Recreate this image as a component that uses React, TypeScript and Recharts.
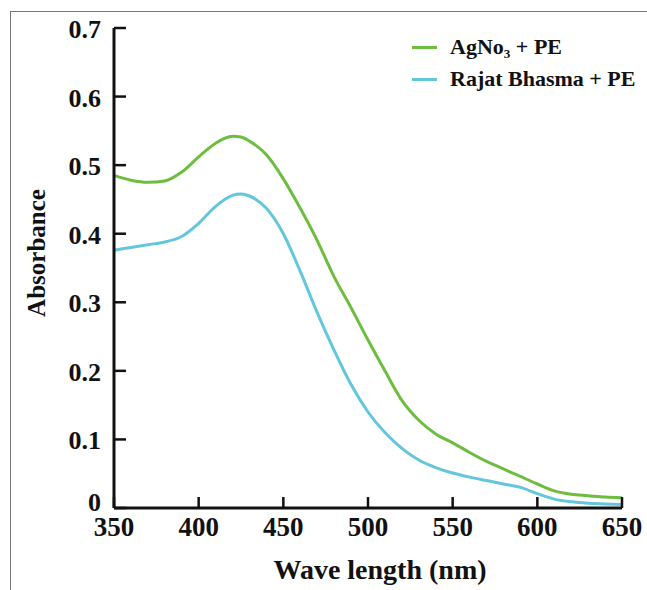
import { LineChart, Line, XAxis, YAxis, Legend, Label } from 'recharts';

const wavelengths = [350, 360, 370, 380, 390, 400, 410, 420, 425, 430, 440, 450, 460, 470, 480, 490, 500, 510, 520, 530, 540, 550, 560, 570, 580, 590, 600, 610, 620, 630, 640, 650];
const agNo3Pe = [0.485, 0.478, 0.475, 0.477, 0.49, 0.512, 0.532, 0.542, 0.541, 0.535, 0.515, 0.48, 0.437, 0.39, 0.337, 0.292, 0.245, 0.2, 0.157, 0.128, 0.108, 0.095, 0.081, 0.068, 0.057, 0.046, 0.035, 0.025, 0.02, 0.018, 0.016, 0.015];
const rajatBhasmaPe = [0.376, 0.38, 0.384, 0.388, 0.396, 0.415, 0.44, 0.456, 0.458, 0.455, 0.437, 0.4, 0.345, 0.285, 0.23, 0.18, 0.14, 0.11, 0.087, 0.07, 0.059, 0.051, 0.045, 0.04, 0.035, 0.03, 0.021, 0.013, 0.009, 0.007, 0.006, 0.005];
const seriesNames = ['AgNo₃ + PE', 'Rajat Bhasma + PE'];
const xTicks = [350, 400, 450, 500, 550, 600, 650];
const yTicks = [0, 0.1, 0.2, 0.3, 0.4, 0.5, 0.6, 0.7];

const data = wavelengths.map((wl, i) => ({ wl, ag: agNo3Pe[i], rb: rajatBhasmaPe[i] }));

const FONT = '"Liberation Serif", "Times New Roman", serif';
const INK = '#111';

function YTick({ x, y, payload }: any) {
  const v = payload.value;
  return (
    <g>
      <line x1={x} x2={x + 12} y1={y} y2={y} stroke={INK} strokeWidth={2.5} />
      <text x={x - 13} y={v === 0 ? y + 3 : y + 10} textAnchor="end" fontFamily={FONT} fontWeight="bold" fontSize={26} fill={INK}>
        {String(v)}
      </text>
    </g>
  );
}

function XTick({ x, y, payload }: any) {
  return (
    <g>
      <line x1={x} x2={x} y1={y} y2={y - 11} stroke={INK} strokeWidth={2.5} />
      <text x={x} y={y + 28} textAnchor="middle" fontFamily={FONT} fontWeight="bold" fontSize={27} fill={INK}>
        {payload.value}
      </text>
    </g>
  );
}

function LegendBox({ payload }: any) {
  return (
    <div style={{ fontFamily: FONT, fontWeight: 'bold', fontSize: 22, color: INK }}>
      {(payload || []).map((p: any) => (
        <div key={p.value} style={{ display: 'flex', alignItems: 'center', height: 32 }}>
          <span style={{ display: 'inline-block', width: 25, height: 3, background: p.color, marginRight: 13 }} />
          <span>{p.value}</span>
        </div>
      ))}
    </div>
  );
}

export default function App() {
  return (
    <div style={{ position: 'absolute', left: 0, top: 0, width: 647, height: 590, overflow: 'hidden', background: '#fff' }}>
      <div style={{ position: 'absolute', left: 10, top: 11, width: 700, height: 700, border: '1px solid #777' }} />
      <div style={{ position: 'absolute', left: 0, top: 0 }}>
        <LineChart width={647} height={590} data={data} margin={{ top: 28, right: 25, bottom: 32, left: 0 }}>
          <XAxis
            dataKey="wl"
            type="number"
            domain={[350, 650]}
            ticks={xTicks}
            height={50}
            tickSize={0}
            tickMargin={0}
            tickLine={false}
            axisLine={{ stroke: INK, strokeWidth: 3 }}
            tick={<XTick />}
          >
            <Label
              content={({ viewBox }: any) => (
                <text x={viewBox.x + viewBox.width / 2 + 12} y={viewBox.y + 71} textAnchor="middle" fontFamily={FONT} fontWeight="bold" fontSize={28} fill={INK}>
                  Wave length (nm)
                </text>
              )}
            />
          </XAxis>
          <YAxis
            type="number"
            domain={[0, 0.7]}
            ticks={yTicks}
            width={114}
            tickSize={0}
            tickMargin={0}
            tickLine={false}
            axisLine={{ stroke: INK, strokeWidth: 3 }}
            tick={<YTick />}
          >
            <Label
              content={({ viewBox }: any) => {
                const cx = viewBox.x + 36;
                const cy = viewBox.y + viewBox.height / 2 - 15;
                return (
                  <text x={cx} y={cy} transform={`rotate(-90 ${cx} ${cy})`} textAnchor="middle" dominantBaseline="central" fontFamily={FONT} fontWeight="bold" fontSize={25} fill={INK}>
                    Absorbance
                  </text>
                );
              }}
            />
          </YAxis>
          <Legend
            layout="vertical"
            align="center"
            verticalAlign="middle"
            wrapperStyle={{ left: 412, top: 31, width: 'auto' }}
            content={<LegendBox />}
          />
          <Line type="monotone" dataKey="ag" name={seriesNames[0]} stroke="#6dbd3f" strokeWidth={3} dot={false} isAnimationActive={false} />
          <Line type="monotone" dataKey="rb" name={seriesNames[1]} stroke="#62c6dd" strokeWidth={3} dot={false} isAnimationActive={false} />
        </LineChart>
      </div>
    </div>
  );
}
